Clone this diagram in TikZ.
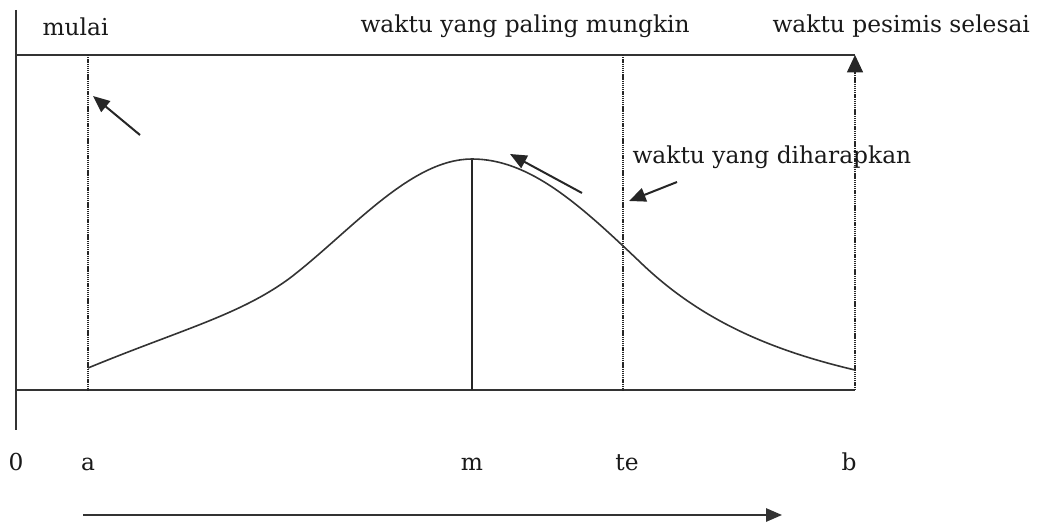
\documentclass[tikz,border=0pt]{standalone}
\usepackage{fontspec}
\setmainfont{DejaVu Serif}
\usetikzlibrary{arrows.meta}

\tikzset{every picture/.style={line width=0.75pt}}
\tikzset{
  axisline/.style={line width=1.9pt, color=black!80},
  guide/.style={line width=0.8pt, color=black!85, dash pattern=on 1pt off 0.6pt},
  pointer/.style={line width=1.5pt, color=black!85, -{Triangle[length=12.5pt,width=10.5pt]}},
  lbl/.style={font=\fontsize{17.5}{20}\selectfont, inner sep=0pt, anchor=base west, text=black!90},
  ticklbl/.style={font=\fontsize{17.5}{20}\selectfont, inner sep=0pt, anchor=base, text=black!90},
}

\begin{document}
\begin{tikzpicture}[x=0.75pt,y=0.75pt,yscale=-1,xscale=1]
\useasboundingbox (0,0) rectangle (1048,528); %set diagram size to the reference

% Points on the axes
\coordinate (axTop) at (16,10);
\coordinate (axBot) at (16,430);
\coordinate (topL) at (16,55);
\coordinate (baseL) at (16,390);
\coordinate (aTop) at (88,55);
\coordinate (aBase) at (88,390);
\coordinate (mPeak) at (472,159);
\coordinate (mBase) at (472,390);
\coordinate (teTop) at (623,55);
\coordinate (teBase) at (623,390);
\coordinate (bTop) at (855,55);
\coordinate (bBase) at (855,390);

% Axes
\draw [axisline] (axTop) -- (axBot) ;
\draw [axisline] (topL) -- (bTop) ;
\draw [axisline] (baseL) -- (bBase) ;

% Vertical guides
\draw [guide] (aTop) -- (aBase) ;
\draw [line width=1pt, color=black!85] (mPeak) -- (mBase) ;
\draw [guide] (teTop) -- (teBase) ;
\draw [guide, -{Triangle[length=13pt,width=12pt]}] (bBase) -- (bTop) ;

% Curve
\draw [line width=1.2pt, color=black!80] (88,368) .. controls (180,330) and (240,315) .. (290,278) .. controls (350,232) and (410,159) .. (mPeak) .. controls (530,159) and (580,205) .. (640,262) .. controls (700,320) and (770,350) .. (855,370) ;

% Pointers
\coordinate (p1s) at (140,135);
\coordinate (p1e) at (93,96);
\coordinate (p2s) at (582,193);
\coordinate (p2e) at (510,154);
\coordinate (p3s) at (677,182);
\coordinate (p3e) at (629,201);
\draw [pointer] (p1s) -- (p1e) ;
\draw [pointer] (p2s) -- (p2e) ;
\draw [pointer] (p3s) -- (p3e) ;

% Text Node
\node [lbl] (mulai) at (42,36) {mulai};
% Text Node
\node [lbl] (paling) at (360,33) {waktu yang paling mungkin};
% Text Node
\node [lbl] (pesimis) at (772,33) {waktu pesimis selesai};
% Text Node
\node [lbl] (harap) at (632,163) {waktu yang diharapkan};

% Tick labels
\node [ticklbl] (t0) at (16,470) {0};
\node [ticklbl] (ta) at (88,470) {a};
\node [ticklbl] (tm) at (472,470) {m};
\node [ticklbl] (tte) at (627,470) {te};
\node [ticklbl] (tb) at (849,470) {b};

% Time arrow
\coordinate (timeS) at (83,515);
\coordinate (timeE) at (782,515);
\draw [line width=1.4pt, color=black!80, -{Triangle[length=12pt,width=10pt]}] (timeS) -- (timeE) ;

\end{tikzpicture}
\end{document}
